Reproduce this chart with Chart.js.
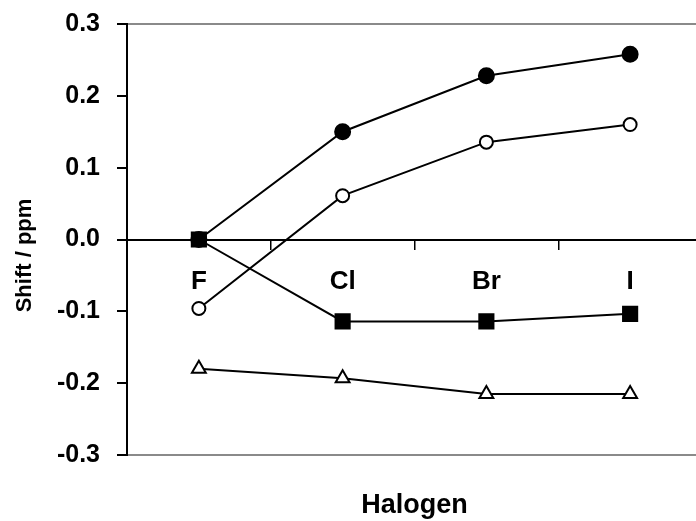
<!DOCTYPE html>
<html>
<head>
<meta charset="utf-8">
<script src="https://cdn.jsdelivr.net/npm/chart.js@4/dist/chart.umd.min.js"></script>
<style>
    html, body { margin: 0; padding: 0; background: #fff; overflow: hidden; }
    #wrap { width: 714px; height: 521px; }
</style>
</head>
<body>
<div id="wrap"><canvas id="shiftChart" width="714" height="521"></canvas></div>
<script>
var halogens = ['F', 'Cl', 'Br', 'I'];
var filledCircles = [0, 0.15, 0.228, 0.258];
var openCircles = [-0.096, 0.061, 0.1355, 0.16];
var filledSquares = [0, -0.114, -0.114, -0.1035];
var openTriangles = [-0.18, -0.193, -0.215, -0.215];
var yTicks = [-0.3, -0.2, -0.1, 0.0, 0.1, 0.2, 0.3];
var xTitle = 'Halogen';
var yTitle = 'Shift / ppm';

(function () {
    var chartElement = document.getElementById('shiftChart');
    if (!chartElement || typeof Chart === 'undefined') {
        return;
    }

    var fontFamily = '"Liberation Sans", Arial, Helvetica, sans-serif';

    function series(data, style, radius, fill) {
        return {
            data: data,
            borderColor: '#000',
            borderWidth: 2,
            pointStyle: style,
            pointRadius: radius,
            pointHoverRadius: radius,
            pointBackgroundColor: fill,
            pointBorderColor: '#000',
            pointBorderWidth: 2,
            tension: 0,
            fill: false
        };
    }

    // tick label padding would otherwise push the plot area inwards
    function noEdgePadding(scale) {
        scale.paddingTop = 0;
        scale.paddingBottom = 0;
        scale.paddingLeft = 0;
        scale.paddingRight = 0;
    }

    // draws the two axis titles where the original had them
    var axisTitles = {
        id: 'axisTitles',
        afterDraw: function (chart) {
            var ctx = chart.ctx;
            var area = chart.chartArea;
            ctx.save();
            ctx.fillStyle = '#000';
            ctx.textAlign = 'center';
            ctx.textBaseline = 'alphabetic';
            ctx.font = 'bold 27px ' + fontFamily;
            ctx.fillText(xTitle, (area.left + area.right) / 2, area.bottom + 58);
            ctx.translate(31, (area.top + area.bottom) / 2 + 16);
            ctx.rotate(-Math.PI / 2);
            ctx.font = 'bold 22px ' + fontFamily;
            ctx.fillText(yTitle, 0, 0);
            ctx.restore();
        }
    };

    new Chart(chartElement.getContext('2d'), {
        type: 'line',
        data: {
            labels: halogens,
            datasets: [
                series(filledSquares, 'rect', 10, '#000'),
                series(filledCircles, 'circle', 7.5, '#000'),
                series(openCircles, 'circle', 6.5, '#fff'),
                series(openTriangles, 'triangle', 8, '#fff')
            ]
        },
        options: {
            responsive: false,
            animation: false,
            devicePixelRatio: 1,
            layout: { padding: { top: 24, bottom: 66, left: 0, right: 0 } },
            plugins: {
                legend: { display: false },
                tooltip: { enabled: false }
            },
            scales: {
                x: {
                    type: 'category',
                    position: { y: 0 },
                    offset: true,
                    afterFit: noEdgePadding,
                    grid: {
                        offset: true,
                        drawOnChartArea: false,
                        drawTicks: true,
                        tickLength: 9,
                        color: '#000',
                        lineWidth: 1.5
                    },
                    border: { display: true, color: '#000', width: 2 },
                    ticks: {
                        color: '#000',
                        padding: 18,
                        maxRotation: 0,
                        font: { family: fontFamily, size: 26, weight: 'bold' }
                    }
                },
                y: {
                    min: -0.3,
                    max: 0.3,
                    afterBuildTicks: function (scale) {
                        scale.ticks = yTicks.map(function (v) { return { value: v }; });
                    },
                    afterFit: function (scale) {
                        scale.width = 127;
                        noEdgePadding(scale);
                    },
                    grid: {
                        drawOnChartArea: true,
                        drawTicks: true,
                        tickLength: 10,
                        lineWidth: 2,
                        tickColor: '#000',
                        color: function (ctx) {
                            if (ctx.tick && Math.abs(Math.abs(ctx.tick.value) - 0.3) < 1e-9) return '#8a8a8a';
                            return 'rgba(0,0,0,0)';
                        }
                    },
                    border: { display: true, color: '#000', width: 2 },
                    ticks: {
                        color: '#000',
                        padding: 17,
                        font: { family: fontFamily, size: 25, weight: 'bold' },
                        callback: function (value) {
                            return Number(value).toFixed(1);
                        }
                    }
                }
            }
        },
        plugins: [axisTitles]
    });
})();
</script>
</body>
</html>
